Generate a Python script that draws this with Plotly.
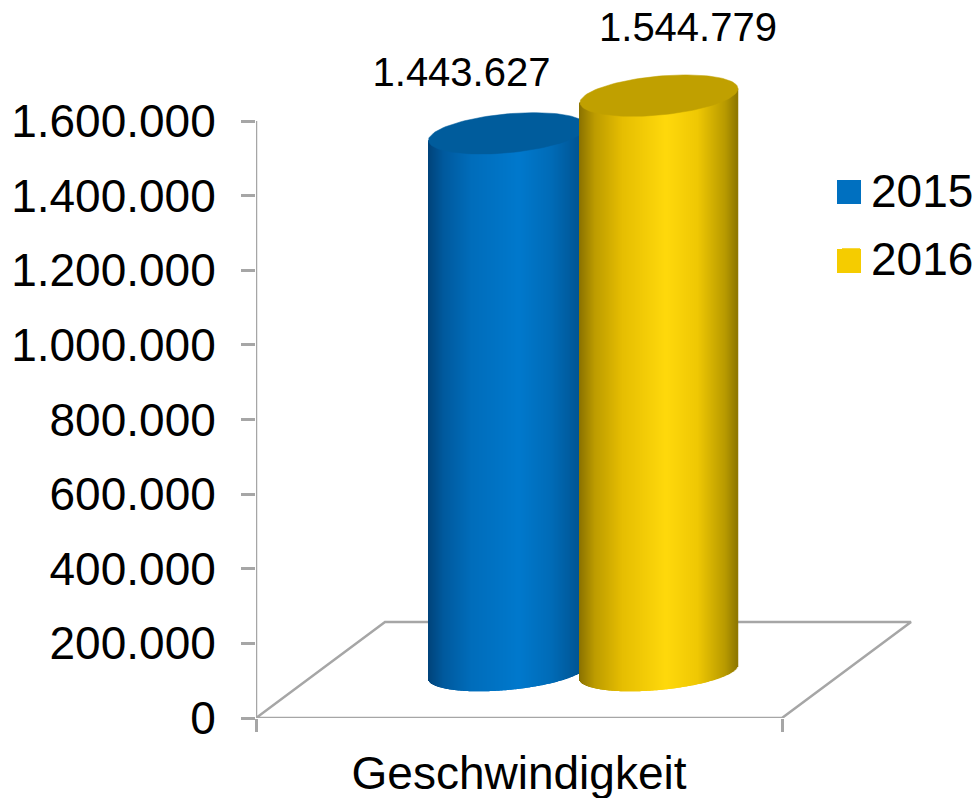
import numpy as np
import plotly.graph_objects as go

# ---- chart data ----
categories = ["Geschwindigkeit"]
series_names = ["2015", "2016"]
values_2015 = [1443627]
values_2016 = [1544779]
y_ticks = [0, 200000, 400000, 600000, 800000, 1000000, 1200000, 1400000, 1600000]

# ---- styles ----
AX = "#a6a6a6"
FONT = "Liberation Sans, Arial, sans-serif"
W, H = 977, 798
L, R, B = 256, 920, 718
Y_PER_PX = 1600000 / 597
X_PER_PX = 1 / 526
x_range = [0, (R - L) * X_PER_PX]
y_range = [0, B * Y_PER_PX]
base_value = (B - 672) * Y_PER_PX     # floor depth position of the cylinders
A_PX, B_PX, S_PX = 79, 18, 7          # ellipse half-width, half-height, tilt
TOP_B_PX = 19.5
COLORS = ["#0070c0", "#f5cc00"]

stops_blue = [(-1, "#00437a"), (-0.8, "#005a9e"), (-0.45, "#006dbb"), (0.15, "#0079cd"),
              (0.55, "#006cb8"), (0.85, "#00599a"), (1, "#004f88")]
stops_yellow = [(-1, "#8a7200"), (-0.8, "#bd9c00"), (-0.45, "#e6be02"), (0.1, "#ffd90c"),
                (0.5, "#efc804"), (0.85, "#b89a00"), (1, "#8f7800")]


def mix(stops, u):
    us = [s[0] for s in stops]
    rgb = [[int(s[1][i:i + 2], 16) for s in stops] for i in (1, 3, 5)]
    return "rgb(%d,%d,%d)" % tuple(np.interp(u, us, c) for c in rgb)


def cylinder(value, center_px, stops, top_color, axis_suffix, label_dx_px, label_dy_value):
    """Body strips, top ellipse and data label for one series, on its own overlay axes."""
    n = 158
    edges = np.linspace(-1, 1, n + 1)
    u = (edges[:-1] + edges[1:]) / 2
    cx = (center_px - L) * X_PER_PX
    a = A_PX * X_PER_PX
    low = (B_PX * np.sqrt(1 - u ** 2) - S_PX * u) * Y_PER_PX
    tilt = S_PX * u * Y_PER_PX
    base = base_value - low
    top = base_value + value + tilt
    xa, ya = "x" + axis_suffix, "y" + axis_suffix
    traces = [go.Bar(x=cx + a * u, y=top - base, base=base, width=a * 2 / n * 1.5,
                     marker=dict(color=[mix(stops, v) for v in u], line=dict(width=0), opacity=1),
                     showlegend=False, hoverinfo="skip", xaxis=xa, yaxis=ya, cliponaxis=False)]
    t = np.linspace(0, 2 * np.pi, 121)
    traces.append(go.Scatter(
        x=cx + a * np.cos(t),
        y=base_value + value + (TOP_B_PX * np.sin(t) + S_PX * np.cos(t)) * Y_PER_PX,
        mode="lines", fill="toself", fillcolor=top_color, line=dict(width=0.5, color=top_color),
        showlegend=False, hoverinfo="skip", xaxis=xa, yaxis=ya, cliponaxis=False))
    label = f"{value:,}".replace(",", ".")
    traces.append(go.Scatter(
        x=[cx + label_dx_px * X_PER_PX], y=[value + label_dy_value], mode="text", text=[label],
        textposition="middle center", textfont=dict(family=FONT, size=40, color="#000"),
        showlegend=False, hoverinfo="skip", xaxis=xa, yaxis=ya, cliponaxis=False))
    return traces


fig = go.Figure()

# floor and value axis line, on the main axes (under the cylinders)
dx, dy = 129 * X_PER_PX, 96 * Y_PER_PX
fig.add_trace(go.Scatter(x=[1, 1 + dx, dx, 0, 1], y=[0, dy, dy, 0, 0], mode="lines",
                         line=dict(color=AX, width=2.5), showlegend=False, hoverinfo="skip",
                         cliponaxis=False))
fig.add_trace(go.Scatter(x=[0, 0], y=[0, y_ticks[-1]], mode="lines",
                         line=dict(color=AX, width=2.5), showlegend=False, hoverinfo="skip",
                         cliponaxis=False))

# legend entries
for name, col in zip(series_names, COLORS):
    fig.add_trace(go.Scatter(x=[None], y=[None], mode="markers", name=name, legendgroup=name,
                             marker=dict(symbol="square", size=16, color=col,
                                         line=dict(color=col, width=2))))

for tr in cylinder(values_2015[0], 507.5, stops_blue, "#005c9c", "2", -46, 276000):
    fig.add_trace(tr)
for tr in cylinder(values_2016[0], 659, stops_yellow, "#c0a000", "3", 29, 296000):
    fig.add_trace(tr)

# full-size legend swatches beneath the legend's own capped markers
for col, (top_px, bot_px) in zip(COLORS, [(180, 204), (249, 273)]):
    fig.add_shape(type="rect", xref="paper", yref="paper", line=dict(width=0), fillcolor=col,
                  x0=(837 - L) / (R - L), x1=(861 - L) / (R - L),
                  y0=(B - bot_px) / B, y1=(B - top_px) / B)

hidden = dict(range=x_range, visible=False, fixedrange=True)
fig.update_layout(
    width=W, height=H, autosize=False,
    margin=dict(l=L, r=W - R, t=0, b=H - B, pad=0, autoexpand=False),
    paper_bgcolor="white", plot_bgcolor="white",
    barmode="overlay", separators=",.",
    font=dict(family=FONT, color="#000"),
    xaxis=dict(range=x_range, tickmode="array", tickvals=[0.5], ticktext=categories,
               ticks="", showgrid=False, zeroline=False, showline=False,
               tickfont=dict(family=FONT, size=46), ticklabelstandoff=24,
               minor=dict(tickmode="array", tickvals=[0, 1], ticks="outside", ticklen=13,
                          tickwidth=2.5, tickcolor=AX, showgrid=False)),
    yaxis=dict(range=y_range, tickmode="array", tickvals=y_ticks, tickformat=",d",
               ticks="outside", ticklen=14, tickwidth=2.5, tickcolor=AX,
               showgrid=False, zeroline=False, showline=False,
               tickfont=dict(family=FONT, size=46), ticklabelstandoff=16),
    xaxis2=dict(overlaying="x", **hidden),
    xaxis3=dict(overlaying="x", **hidden),
    yaxis2=dict(overlaying="y", range=y_range, visible=False, fixedrange=True),
    yaxis3=dict(overlaying="y", range=y_range, visible=False, fixedrange=True),
    legend=dict(x=(831 - L) / (R - L), y=(B - 153) / B, xanchor="left", yanchor="top",
                font=dict(family=FONT, size=46), bgcolor="rgba(0,0,0,0)",
                tracegroupgap=5, itemwidth=30, traceorder="grouped"),
)

fig.write_html("out.html", config={"displayModeBar": False},
               post_script="document.body.style.margin='0';document.documentElement.style.overflow='hidden';")
